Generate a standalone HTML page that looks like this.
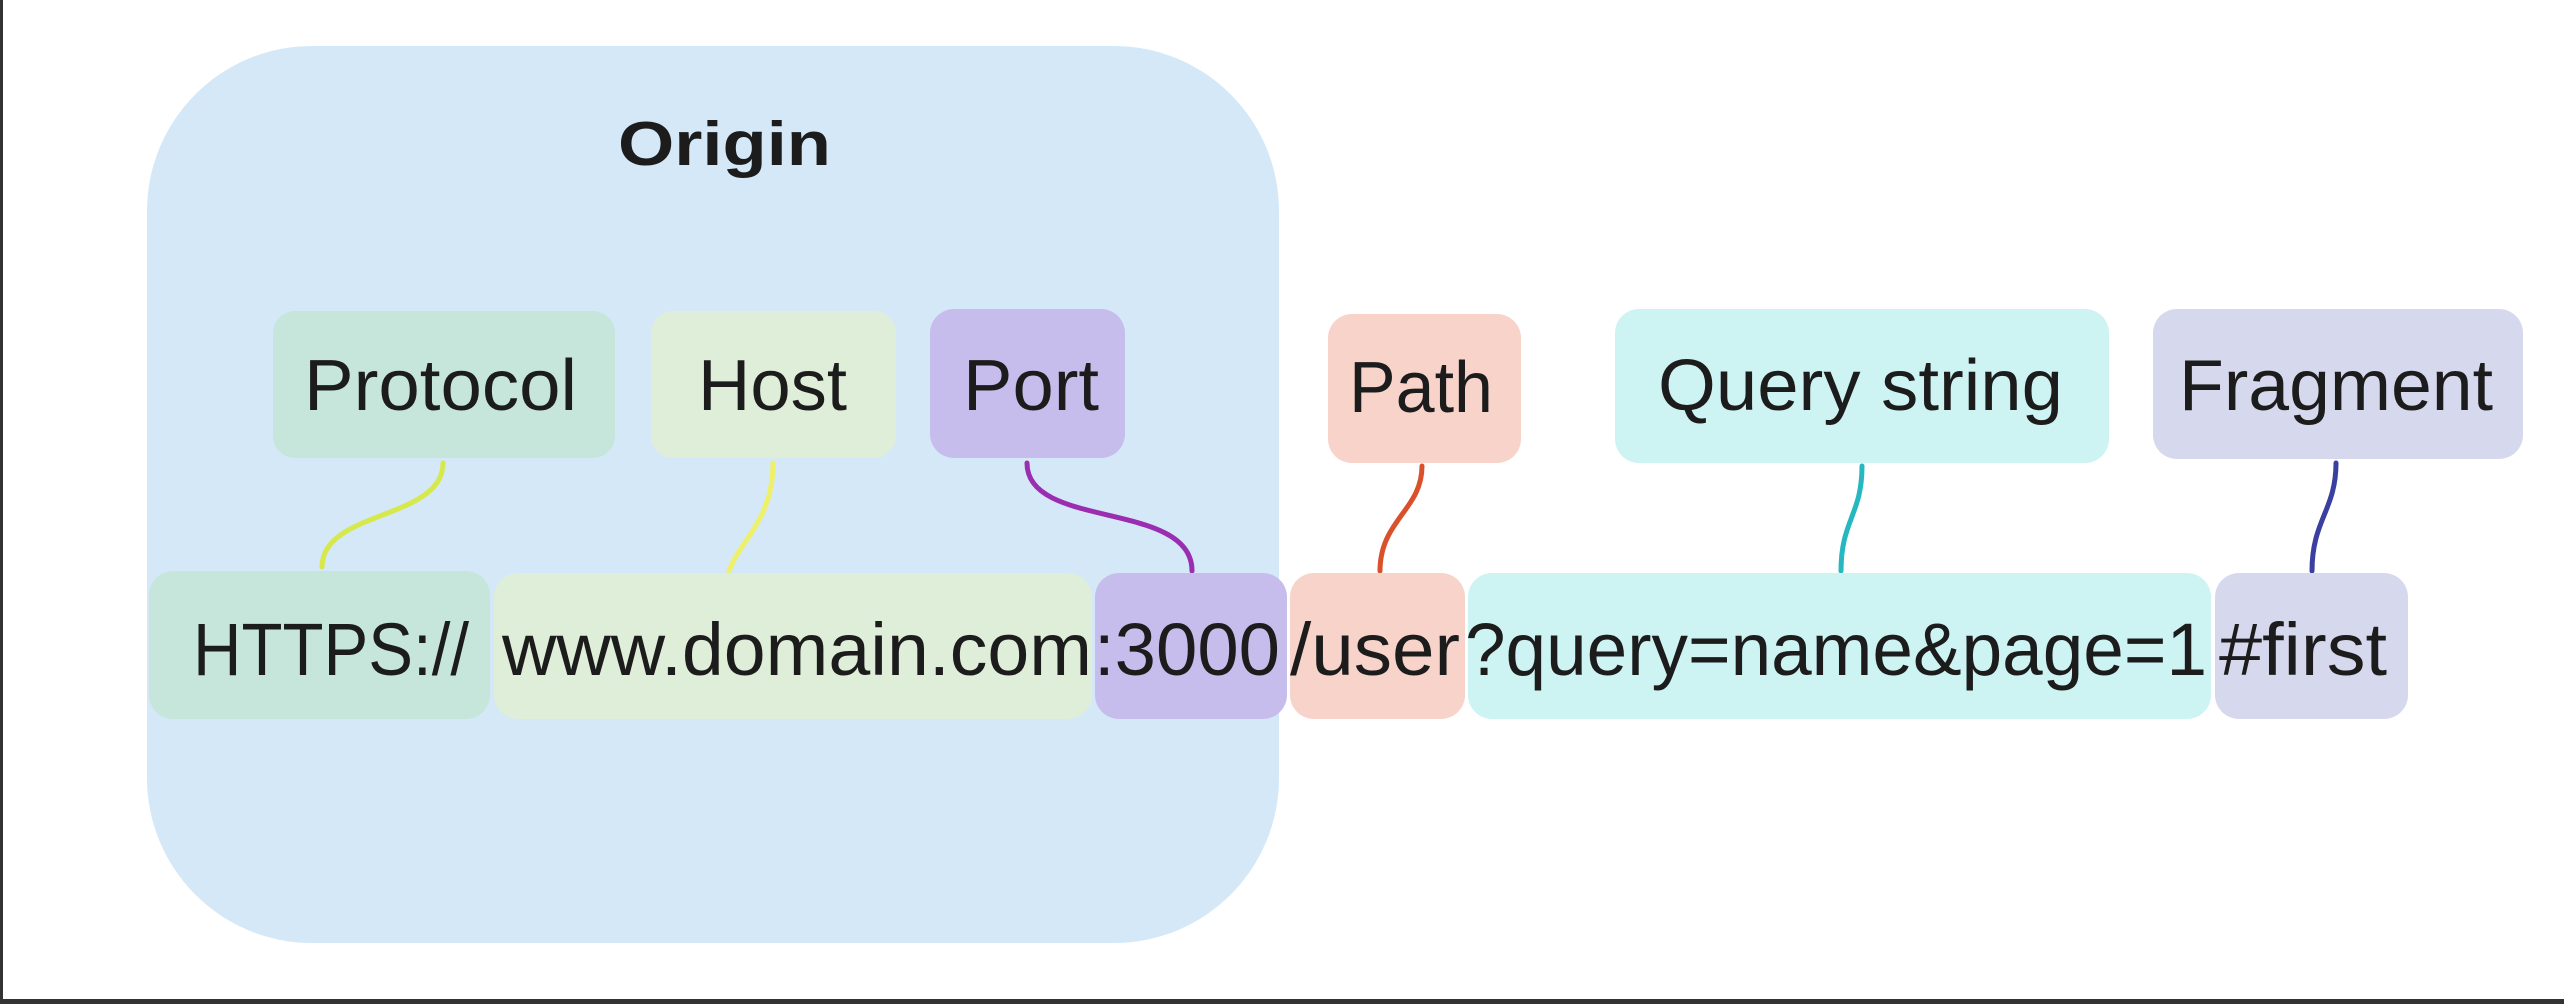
<!DOCTYPE html>
<html><head><meta charset="utf-8"><style>
html,body{margin:0;padding:0;background:#fff;}
svg{display:block;}
text{font-family:"Liberation Sans",sans-serif;fill:#1c1c1c;}
</style></head><body>
<svg width="2564" height="1004" viewBox="0 0 2564 1004" xmlns="http://www.w3.org/2000/svg">
<rect x="0" y="0" width="2564" height="1004" fill="#fff"/>
<rect x="0" y="0" width="3" height="1004" fill="#333"/>
<rect x="0" y="999" width="2564" height="5" fill="#333"/>
<rect x="147" y="46" width="1132" height="897" rx="165" fill="#d4e8f8"/>
<text x="618" y="165" font-size="62" font-weight="bold" textLength="213" lengthAdjust="spacingAndGlyphs">Origin</text>
<!-- top labels -->
<rect x="273" y="311" width="342" height="147" rx="22" fill="#c6e6dc"/>
<rect x="651" y="311" width="245" height="147" rx="22" fill="#dfeed8"/>
<rect x="930" y="309" width="195" height="149" rx="24" fill="#c7bdec"/>
<rect x="1328" y="314" width="193" height="149" rx="24" fill="#f7d3ca"/>
<rect x="1615" y="309" width="494" height="154" rx="24" fill="#cdf3f3"/>
<rect x="2153" y="309" width="370" height="150" rx="24" fill="#d6d8ee"/>
<g font-size="72">
<text x="304" y="410" textLength="273" lengthAdjust="spacingAndGlyphs">Protocol</text>
<text x="698" y="410" textLength="149" lengthAdjust="spacingAndGlyphs">Host</text>
<text x="963" y="410" textLength="136" lengthAdjust="spacingAndGlyphs">Port</text>
<text x="1349" y="412" textLength="144" lengthAdjust="spacingAndGlyphs">Path</text>
<text x="1658" y="410" textLength="405" lengthAdjust="spacingAndGlyphs">Query string</text>
<text x="2179" y="410" textLength="314" lengthAdjust="spacingAndGlyphs">Fragment</text>
</g>
<!-- connectors -->
<g fill="none" stroke-width="5" stroke-linecap="round">
<path d="M443 463 C443 520 322 510 322 567" stroke="#d6e84a"/>
<path d="M773 463 C773 520 740 540 729 571" stroke="#eef06a"/>
<path d="M1027 463 C1027 530 1192 500 1192 571" stroke="#9b2db0"/>
<path d="M1422 466 C1422 510 1380 520 1380 571" stroke="#d9502a"/>
<path d="M1862 466 C1862 515 1841 520 1841 571" stroke="#26b8c0"/>
<path d="M2336 463 C2336 510 2312 520 2312 571" stroke="#3a3fa0"/>
</g>
<!-- bottom row -->
<rect x="149" y="571" width="341" height="148" rx="24" fill="#c6e6dc"/>
<rect x="494" y="573" width="598" height="146" rx="24" fill="#dfeed8"/>
<rect x="1095" y="573" width="192" height="146" rx="24" fill="#c7bdec"/>
<rect x="1290" y="573" width="175" height="146" rx="24" fill="#f7d3ca"/>
<rect x="1468" y="573" width="743" height="146" rx="24" fill="#cdf3f3"/>
<rect x="2215" y="573" width="193" height="146" rx="24" fill="#d6d8ee"/>
<g font-size="74">
<text x="193" y="675" textLength="276" lengthAdjust="spacingAndGlyphs">HTTPS://</text>
<text x="502" y="675" textLength="590" lengthAdjust="spacingAndGlyphs">www.domain.com</text>
<text x="1094" y="675" textLength="186" lengthAdjust="spacingAndGlyphs">:3000</text>
<text x="1290" y="675" textLength="170" lengthAdjust="spacingAndGlyphs">/user</text>
<text x="1465" y="675" textLength="742" lengthAdjust="spacingAndGlyphs">?query=name&amp;page=1</text>
<text x="2219" y="675" textLength="168" lengthAdjust="spacingAndGlyphs">#first</text>
</g>
</svg>
</body></html>
